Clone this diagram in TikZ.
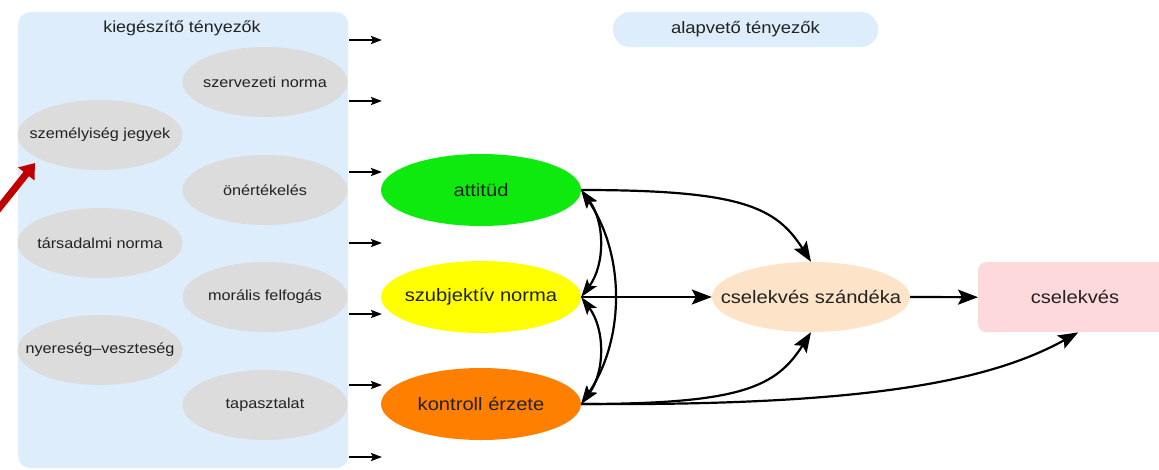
\documentclass[tikz,border=0pt]{standalone}
\usepackage{fontspec}
\setmainfont[FakeStretch=1.12]{Liberation Sans}
\usetikzlibrary{arrows.meta,shapes.geometric}
\definecolor{boxblue}{HTML}{DDEDFC}
\definecolor{ggray}{HTML}{DCDCDC}
\definecolor{cgreen}{HTML}{0EEA0E}
\definecolor{cyellow}{HTML}{FFFF00}
\definecolor{corange}{HTML}{FF7F00}
\definecolor{cpeach}{HTML}{FDE4C8}
\definecolor{cpink}{HTML}{FDD9DB}
\definecolor{cred}{HTML}{C00000}
\definecolor{txt}{HTML}{222222}
\newcommand{\zw}[1]{\makebox[0pt]{#1}}
\tikzset{
  x=1pt,y=-1pt,
  gell/.style={ellipse,fill=ggray,minimum width=165,minimum height=70,inner sep=0,text=txt,font=\fontsize{14.5}{17}\selectfont},
  bell/.style={ellipse,minimum width=200,minimum height=72,inner sep=0,text=txt,font=\fontsize{18}{21}\selectfont},
  shortarr/.style={line width=2.2,-{Stealth[length=11,width=8,inset=2]}},
  conn/.style={line width=2.2,-{Stealth[length=20,width=15,inset=4]}},
  bconn/.style={line width=2.2,{Stealth[length=18,width=12,inset=4]}-{Stealth[length=18,width=12,inset=4]}},
}
\begin{document}
\begin{tikzpicture}
\useasboundingbox (0,0) rectangle (1159,469);
\fill[white] (0,0) rectangle (1159,469);
% left box
\node[fill=boxblue,rounded corners=12,minimum width=330,minimum height=456,inner sep=0,anchor=north west] (box) at (18,12) {};
\node[text=txt,font=\fontsize{16}{19}\selectfont] (kieg) at (182,28) {kiegészítő tényezők};
% gray ellipses
\node[gell] (szerv) at (265,82) {\zw{szervezeti norma}};
\node[gell] (szem) at (100,135) {\zw{személyiség jegyek}};
\node[gell] (oner) at (265,190) {\zw{önértékelés}};
\node[gell] (tars) at (100,243) {\zw{társadalmi norma}};
\node[gell] (moral) at (265,297) {\zw{morális felfogás}};
\node[gell] (nyer) at (100,350) {\zw{nyereség–veszteség}};
\node[gell] (tap) at (265,405) {\zw{tapasztalat}};
% short arrows
\foreach \i/\yy in {1/40,2/101,3/172,4/243,5/314,6/385,7/457}{
  \coordinate (s\i) at (349,\yy);
  \coordinate (e\i) at (382,\yy);
  \draw[shortarr] (s\i) -- (e\i);
}
% red arrow
\coordinate (rs) at (-12,222);
\coordinate (re) at (35,163);
\draw[cred,line width=7,-{Triangle[length=14,width=20]}] (rs) -- (re);
% top label
\node[fill=boxblue,rounded corners=17,minimum width=265,minimum height=35,inner sep=0,text=txt,font=\fontsize{16.5}{19}\selectfont] (alap) at (745.5,29.5) {alapvető tényezők};
% main nodes
\node[bell,fill=cgreen] (att) at (481,190) {\zw{attitüd}};
\node[bell,fill=cyellow] (szub) at (481,297) {\zw{szubjektív norma}};
\node[bell,fill=corange] (kont) at (481,404) {\zw{kontroll érzete}};
\node[bell,fill=cpeach,minimum width=198,minimum height=70] (szand) at (811,297) {\zw{cselekvés szándéka}};
\node[fill=cpink,rounded corners=8,minimum width=200,minimum height=70,inner sep=0,anchor=north west] (csel) at (978,262) {};
\node[text=txt,font=\fontsize{18}{21}\selectfont] (cseltxt) at (1075,297) {cselekvés};
% connectors
\draw[conn] (att.east) .. controls +(160,0) and +(-35,-55) .. (szand.north);
\draw[conn] (szub.east) -- (szand.west);
\draw[conn] (kont.east) .. controls +(160,0) and +(-35,55) .. (szand.south);
\draw[conn] (kont.east) .. controls +(280,2) and +(-90,50) .. (csel.south);
\draw[conn] (szand.east) -- (csel.west);
\draw[bconn] (att.east) .. controls +(24,32) and +(24,-32) .. (szub.east);
\draw[bconn] (szub.east) .. controls +(24,32) and +(24,-32) .. (kont.east);
\draw[bconn] (att.east) .. controls +(44,65) and +(44,-65) .. (kont.east);
\end{tikzpicture}
\end{document}
